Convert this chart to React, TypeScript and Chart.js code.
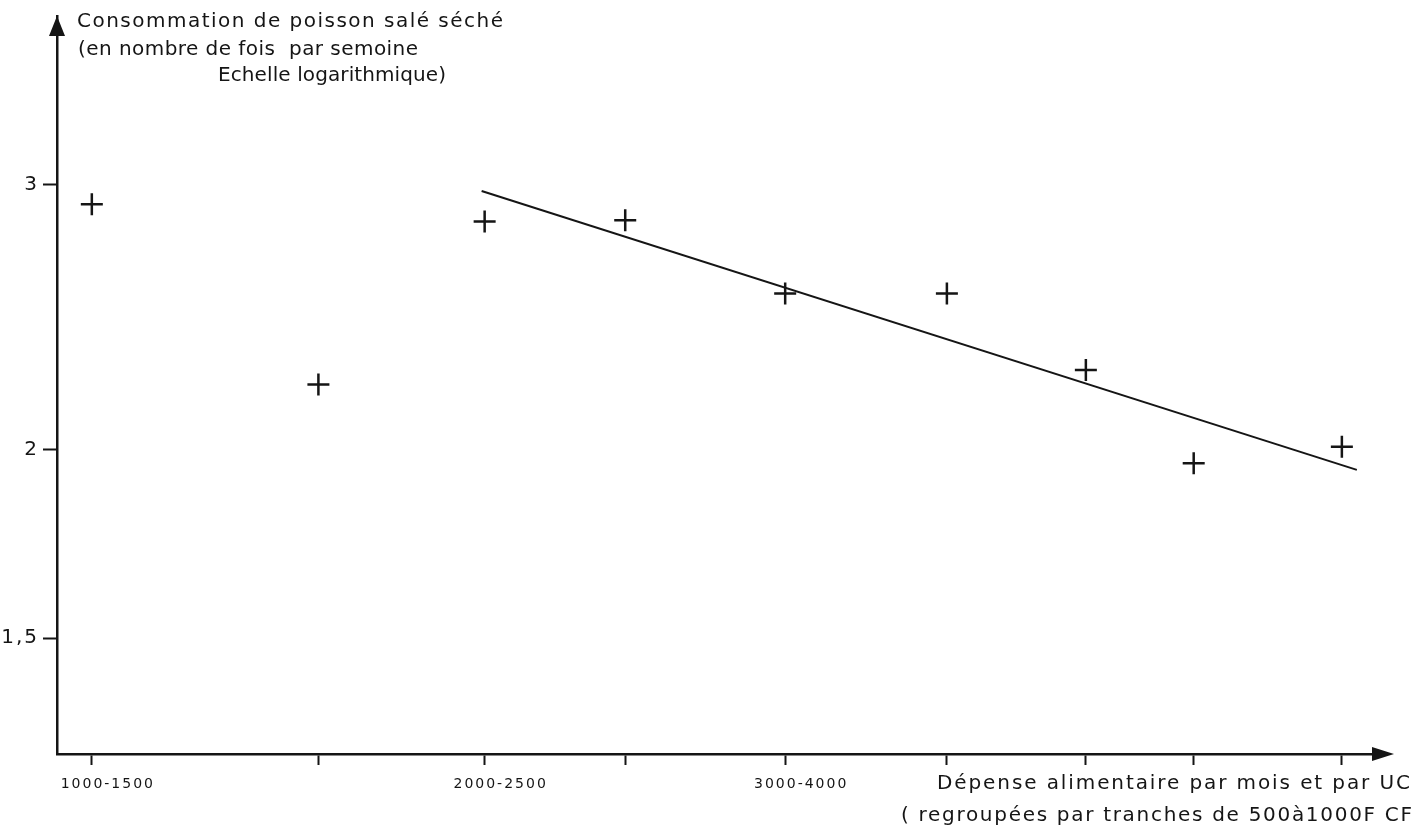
import { useEffect, useRef } from 'react';
import { Chart, registerables } from 'chart.js';

Chart.register(...registerables);

// ---- data ----
const expenditureMidpoints = [1250, 1750, 2240, 2760, 3500, 4450, 5470, 6420, 8000];
const consumption = [2.91, 2.21, 2.835, 2.84, 2.54, 2.54, 2.26, 1.96, 2.01];
const xTickLabels = ['1000-1500', '', '2000-2500', '', '3000-4000', '', '', '', ''];
const trendX = [2230, 8180];
const trendY = [2.97, 1.94];
const yTickValues = [1.5, 2, 3];
const yTickLabels = ['1,5', '2', '3'];
const yTitleLines = [
  'Consommation de poisson salé séché',
  '(en nombre de fois  par semoine',
  'Echelle logarithmique)',
];
const xTitleLines = [
  'Dépense alimentaire par mois et par UC',
  '( regroupées par tranches de 500à1000F CF',
];

const FAMILY = '"DejaVu Sans", sans-serif';
const INK = '#151515';

function drawFitted(ctx: CanvasRenderingContext2D, text: string, x: number, y: number, width: number, size: number) {
  ctx.font = `${size}px ${FAMILY}`;
  (ctx as any).letterSpacing = '0px';
  const w = ctx.measureText(text).width;
  const n = Math.max(text.length - 1, 1);
  const sp = (width - w) / n;
  (ctx as any).letterSpacing = `${sp}px`;
  ctx.textAlign = 'left';
  ctx.textBaseline = 'middle';
  ctx.fillStyle = INK;
  ctx.fillText(text, x, y);
}

const decorPlugin = {
  id: 'decor',
  beforeDraw(chart: any) {
    (chart.ctx as any).letterSpacing = '2px';
  },
  afterDraw(chart: any) {
    const ctx: CanvasRenderingContext2D = chart.ctx;
    const { left, top, right, bottom } = chart.chartArea;
    ctx.save();
    ctx.fillStyle = INK;
    // y arrow head
    ctx.beginPath();
    ctx.moveTo(left, top);
    ctx.lineTo(left - 8, top + 20);
    ctx.lineTo(left + 8, top + 20);
    ctx.closePath();
    ctx.fill();
    // x arrow head
    ctx.beginPath();
    ctx.moveTo(right + 16, bottom);
    ctx.lineTo(right - 6, bottom - 7);
    ctx.lineTo(right - 6, bottom + 7);
    ctx.closePath();
    ctx.fill();
    // titles
    drawFitted(ctx, yTitleLines[0], 77, 22, 426, 20);
    drawFitted(ctx, yTitleLines[1], 78, 50, 340, 20);
    drawFitted(ctx, yTitleLines[2], 218, 76, 228, 20);
    drawFitted(ctx, xTitleLines[0], 937, 784, 473, 20);
    drawFitted(ctx, xTitleLines[1], 901, 816, 511, 20);
    ctx.restore();
    (ctx as any).letterSpacing = '0px';
  },
};

export default function App() {
  const ref = useRef<HTMLCanvasElement | null>(null);

  useEffect(() => {
    const canvas = ref.current;
    if (!canvas) return;
    const chart = new Chart(canvas, {
      type: 'scatter',
      data: {
        datasets: [
          {
            type: 'line',
            label: 'tendance',
            data: trendX.map((x, i) => ({ x, y: trendY[i] })),
            borderColor: INK,
            borderWidth: 2,
            pointRadius: 0,
            fill: false,
            showLine: true,
          } as any,
          {
            label: 'observations',
            data: expenditureMidpoints.map((x, i) => ({ x, y: consumption[i] })),
            pointStyle: 'cross',
            pointRadius: 11,
            borderColor: INK,
            backgroundColor: INK,
            borderWidth: 2.5,
          },
        ],
      },
      options: {
        responsive: false,
        animation: false,
        layout: { padding: { top: 11, right: 38, left: 0, bottom: 0 } },
        plugins: { legend: { display: false }, tooltip: { enabled: false } },
        scales: {
          x: {
            type: 'logarithmic',
            min: 1187,
            max: 8441,
            bounds: 'data',
            afterFit: (s: any) => {
              s.height = 85;
            },
            afterBuildTicks: (s: any) => {
              s.ticks = expenditureMidpoints.map((v) => ({ value: v }));
            },
            grid: { drawOnChartArea: false, drawTicks: true, tickLength: 11, tickWidth: 2, tickColor: INK },
            border: { display: true, color: INK, width: 2.5 },
            ticks: {
              autoSkip: false,
              maxRotation: 0,
              minRotation: 0,
              padding: 11,
              labelOffset: 16,
              color: INK,
              font: { family: FAMILY, size: 14 },
              callback: (_v: any, i: number) => xTickLabels[i] ?? '',
            },
          },
          y: {
            type: 'logarithmic',
            min: 1.257,
            max: 3.88,
            bounds: 'data',
            afterFit: (s: any) => {
              s.width = 57;
            },
            afterBuildTicks: (s: any) => {
              s.ticks = yTickValues.map((v) => ({ value: v }));
            },
            grid: { drawOnChartArea: false, drawTicks: true, tickLength: 14, tickWidth: 2, tickColor: INK },
            border: { display: true, color: INK, width: 2.5 },
            ticks: {
              autoSkip: false,
              padding: 4,
              color: INK,
              font: { family: FAMILY, size: 20 },
              callback: (_v: any, i: number) => yTickLabels[i] ?? '',
            },
          },
        },
      } as any,
      plugins: [decorPlugin],
    });
    return () => chart.destroy();
  }, []);

  return (
    <div style={{ position: 'fixed', left: 0, top: 0, width: 1416, height: 839, background: '#fff' }}>
      <canvas ref={ref} width={1416} height={839} style={{ width: 1416, height: 839, display: 'block' }} />
    </div>
  );
}
